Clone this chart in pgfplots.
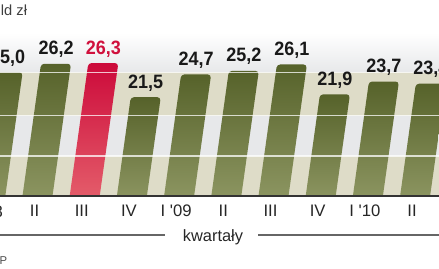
\documentclass[border=0pt]{standalone}
\usepackage{pgfplots}
\pgfplotsset{compat=1.18}
\usepackage{pgfplotstable}
\usepackage{fontspec}
\setmainfont{Liberation Sans}
\newfontfamily\valfont{Liberation Sans}[FakeStretch=0.93]
\definecolor{olivetop}{HTML}{56622A}
\definecolor{olivebot}{HTML}{8E9763}
\definecolor{redtop}{HTML}{CC0A3A}
\definecolor{redbot}{HTML}{E5606C}
\definecolor{redlab}{HTML}{D0103C}
\definecolor{bandgray}{HTML}{E7E8EA}
\definecolor{bandbeige}{HTML}{DEDCC8}
% quarter index, value (mld zl)
\pgfplotstableread{
x v
1 25.0
2 26.2
4 21.5
5 24.7
6 25.2
7 26.1
8 21.9
9 23.7
10 23.4
}\olivedata
\pgfplotstableread{
x v
3 26.3
}\reddata
% slanted bar: #1 style, #2 quarter index, #3 value
\newcommand\slbar[3]{%
  \pgfmathsetmacro\bl{#2-0.3178-0.021089}%
  \pgfmathsetmacro\br{#2+0.3178-0.021089}%
  \pgfmathsetmacro\tl{#2-0.3178+0.021089*(#3-7.6)}%
  \pgfmathsetmacro\tr{#2+0.3178+0.021089*(#3-7.6)}%
  \edef\temp{\noexpand\addplot[#1] coordinates {(\bl,6.6) (\tl,#3) (\tr,#3) (\br,6.6)} -- cycle;}\temp}
\begin{document}
\begin{tikzpicture}[x=0.75pt,y=0.75pt]
\begin{axis}[
  name=ax,
  x=35.4pt, y=5.3325pt,
  xmin=1.2055, xmax=10.5064, ymin=7.6, ymax=30.53,
  axis line style={draw=none}, tick style={draw=none},
  ytick=\empty,
  xtick={1,...,10},
  xticklabels={I \textquotesingle 08, II, III, IV, I \textquotesingle 09, II, III, IV, I \textquotesingle 10, II},
  xticklabel style={font=\fontsize{12.5}{14}\selectfont, text=black!85, anchor=base, inner sep=0pt, yshift=-15.75pt, xshift=-2.25pt},
  /pgf/number format/.cd, fixed, fixed zerofill, precision=1, use comma, assume math mode=true,
  /pgfplots/.cd,
  clip=true,
  olivebar/.style={draw=none, top color=olivetop, bottom color=olivebot, rounded corners=2.5pt},
  redbar/.style={draw=none, top color=redtop, bottom color=redbot, rounded corners=2.5pt},
  lab/.style={draw=none, mark=none, nodes near coords, nodes near coords align={anchor=base},
    every node near coord/.append style={font=\valfont\bfseries\fontsize{14.5}{16}\selectfont, anchor=base, inner sep=0pt, yshift=6.75pt}},
]
% background bands
\addplot[draw=none, top color=white, bottom color=bandgray] coordinates {(1.2055,25.0) (1.2055,30.53) (10.5064,30.53) (10.5064,25.0)} -- cycle;
\addplot[draw=none, fill=bandbeige] coordinates {(1.2055,18.894) (1.2055,25.0) (10.5064,25.0) (10.5064,18.894)} -- cycle;
\addplot[draw=none, fill=bandgray] coordinates {(1.2055,13.226) (1.2055,18.894) (10.5064,18.894) (10.5064,13.226)} -- cycle;
\addplot[draw=none, fill=bandbeige] coordinates {(1.2055,7.6) (1.2055,13.226) (10.5064,13.226) (10.5064,7.6)} -- cycle;
% bars
\slbar{olivebar}{1}{25.0}
\slbar{olivebar}{2}{26.2}
\slbar{redbar}{3}{26.3}
\slbar{olivebar}{4}{21.5}
\slbar{olivebar}{5}{24.7}
\slbar{olivebar}{6}{25.2}
\slbar{olivebar}{7}{26.1}
\slbar{olivebar}{8}{21.9}
\slbar{olivebar}{9}{23.7}
\slbar{olivebar}{10}{23.4}
% white grid lines over bars
\addplot[white, opacity=0.75, line width=0.8pt, mark=none] coordinates {(1.2055,25.0) (10.5064,25.0)};
\addplot[white, opacity=0.75, line width=0.8pt, mark=none] coordinates {(1.2055,18.894) (10.5064,18.894)};
\addplot[white, opacity=0.75, line width=0.8pt, mark=none] coordinates {(1.2055,13.226) (10.5064,13.226)};
% value labels over the slanted bar tops
\addplot[lab, every node near coord/.append style={text=black!90}] table[x expr=\thisrow{x}+0.021089*(\thisrow{v}-7.6), y=v]{\olivedata};
\addplot[lab, every node near coord/.append style={text=redlab}] table[x expr=\thisrow{x}+0.021089*(\thisrow{v}-7.6), y=v]{\reddata};
% bottom-left corner of the visible picture
\coordinate (O) at (axis cs:1.2055,-2.527);
\end{axis}
\begin{scope}[shift={(O)}]
\draw[black!80, line width=0.9pt] (0,72) -- (439,72);
\node[anchor=base, inner sep=0pt, font=\fontsize{12.5}{14}\selectfont, text=black!85] at (-12.7,51) {I \textquotesingle 08};
\node[anchor=base west, inner sep=0pt, font=\fontsize{11}{12}\selectfont, text=black!75] at (-11.5,252) {mld zł};
\node[anchor=base, inner sep=0pt, font=\fontsize{12.3}{14}\selectfont, text=black!85] at (213,27) {kwartały};
\draw[black!60, line width=0.8pt] (0,33) -- (165,33) (258,33) -- (439,33);
\node[anchor=base east, inner sep=0pt, font=\fontsize{8.5}{10}\selectfont, text=black!70] at (7.5,4) {Źródło: NBP};
\end{scope}
\pgfresetboundingbox
\path[use as bounding box] (O) rectangle ++(439,268);
\end{tikzpicture}
\end{document}
